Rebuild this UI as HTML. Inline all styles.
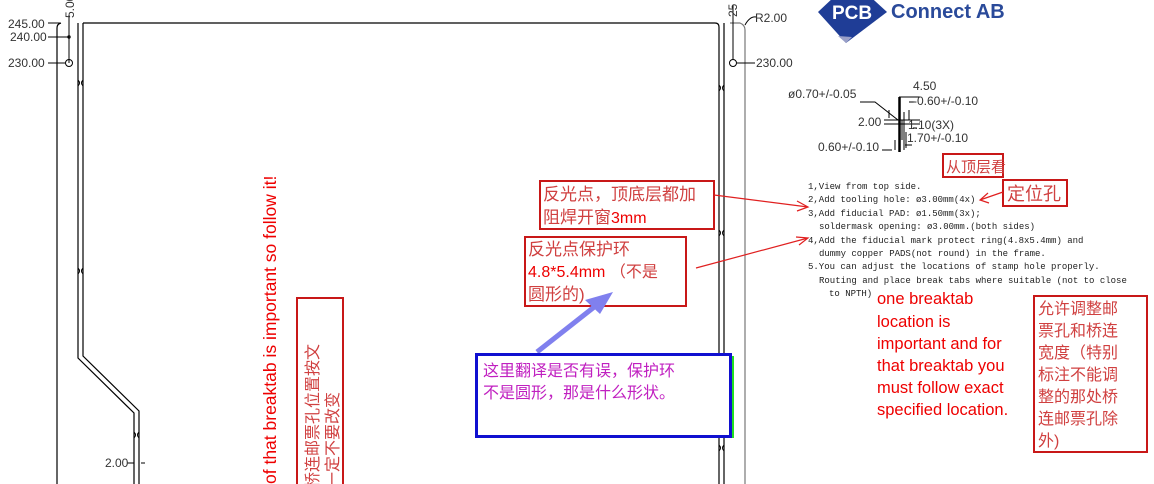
<!DOCTYPE html>
<html><head><meta charset="utf-8"><style>
html,body{margin:0;padding:0;background:#fff;}
svg{display:block;}
.d{font-family:"Liberation Sans",sans-serif;font-size:12px;fill:#333;}
.n{font-family:"Liberation Mono","Noto Sans CJK SC",monospace;font-size:9px;fill:#222;}
.cj{font-family:"Liberation Sans","Noto Sans CJK SC",sans-serif;}
</style></head><body>
<svg width="1154" height="484" viewBox="0 0 1154 484" xmlns="http://www.w3.org/2000/svg">
<g fill="none" stroke="#000" stroke-width="1.2">
<path d="M57 484 V28 Q57 24 61 23"/>
<path d="M78 23 V358 L134 413 V484"/>
<path d="M83 23 V356 L139 411 V484"/>
<path d="M83 23 H715 Q719 23 719 27 V484"/>
<path d="M724 23 V484"/>
<path d="M730 23 H740 Q745 25 745 30 V484" stroke="#777"/>
</g>
<g stroke="#000" stroke-width="1" fill="none">
<path d="M78 80 q3 3 0 6 M83 80 q-3 3 0 6"/>
<path d="M78 268 q3 3 0 6 M83 268 q-3 3 0 6"/>
<path d="M134 432 q3 3 0 6 M139 432 q-3 3 0 6"/>
<path d="M719 85 q3 3 0 6 M724 85 q-3 3 0 6"/>
<path d="M719 230 q3 3 0 6 M724 230 q-3 3 0 6"/>
<path d="M719 445 q3 3 0 6 M724 445 q-3 3 0 6"/>
</g>
<g stroke="#000" stroke-width="1" fill="none">
<path d="M48 23 H60"/><path d="M48 37 H69"/><path d="M48 63 H65"/>
<path d="M69 15 V63"/><circle cx="69" cy="63" r="3.5"/><circle cx="69" cy="37" r="1.2"/>
<path d="M127 463 H134 M141 463 H145"/>
<path d="M733 5 V60"/><circle cx="733" cy="63" r="3.5"/><path d="M737 63 H755"/>
<path d="M745 25 Q750 16 756 17"/>
</g>
<text class="d" x="8" y="28">245.00</text>
<text class="d" x="10" y="41">240.00</text>
<text class="d" x="8" y="67">230.00</text>
<text class="d" transform="translate(74,18) rotate(-90)">5.00</text>
<text class="d" x="105" y="467">2.00</text>
<text class="d" transform="translate(737,17) rotate(-90)">25</text>
<text class="d" x="755" y="22">R2.00</text>
<text class="d" x="756" y="67">230.00</text>
<polygon points="852,-20 887,12 846,43 818,12" fill="#1f3d96"/>
<polygon points="838,36 846,43 852,37" fill="#9aa0c8"/>
<text x="832" y="19" font-family="Liberation Sans,sans-serif" font-weight="bold" font-size="19" fill="#fff">PCB</text>
<text x="891" y="18" font-family="Liberation Sans,sans-serif" font-weight="bold" font-size="20" fill="#2a4a9a">Connect AB</text>
<g stroke="#000" stroke-width="1" fill="none">
<path d="M899 97 H920 M860 102 H875 L898 120"/>
<path d="M889 110 V118 M909 110 V120 M884 120 H920 M884 124 H920"/>
<path d="M899 97 V152 M900 97 V152" stroke-width="1.5"/>
<path d="M904 112 V150 M902 120 V140 M906 132 V148 M895 140 V150 M882 150 H892"/>
<path d="M909 102 H915 M913 128 H917 M905 145 H912"/>
</g>
<text class="d" x="913" y="90">4.50</text>
<text class="d" x="788" y="98">ø0.70+/-0.05</text>
<text class="d" x="913" y="105">-0.60+/-0.10</text>
<text class="d" x="858" y="126">2.00</text>
<text class="d" x="908" y="129">1.10(3X)</text>
<text class="d" x="907" y="142">1.70+/-0.10</text>
<text class="d" x="818" y="151">0.60+/-0.10</text>
<text class="n" x="808" y="189">1,View from top side.</text>
<text class="n" x="808" y="202">2,Add tooling hole:  ø3.00mm(4x)</text>
<text class="n" x="808" y="216">3,Add fiducial PAD:  ø1.50mm(3x);</text>
<text class="n" x="819" y="229">soldermask opening: ø3.00mm.(both sides)</text>
<text class="n" x="808" y="243">4,Add the fiducial mark protect ring(4.8x5.4mm) and</text>
<text class="n" x="819" y="256">dummy copper PADS(not round) in the frame.</text>
<text class="n" x="808" y="269">5.You can adjust the locations of stamp hole properly.</text>
<text class="n" x="819" y="283">Routing and place break tabs where suitable (not to close</text>
<text class="n" x="829" y="296">to NPTH)</text>
<g fill="none" stroke="#c81818" stroke-width="2">
<rect x="943" y="154" width="60" height="23"/>
<rect x="1003" y="180" width="64" height="26"/>
<rect x="540" y="181" width="174" height="48"/>
<rect x="525" y="237" width="161" height="69"/>
<rect x="1034" y="296" width="113" height="156"/>
<rect x="297" y="298" width="46" height="190"/>
</g>
<g stroke="#e02020" stroke-width="1.2" fill="none">
<path d="M1003 192 L980 200 M988 193 L980 200 L989 203"/>
<path d="M714 195 L808 207 M797 201 L808 207 L797 211"/>
<path d="M696 268 L808 238 M796 237 L808 238 L799 245"/>
</g>
<g class="cj" fill="#d04040">
<text x="946" y="172" font-size="15">从顶层看</text>
<text x="1007" y="200" font-size="18">定位孔</text>
<text x="543" y="200" font-size="17">反光点，顶底层都加</text>
<text x="543" y="223" font-size="17">阻焊开窗<tspan fill="#e00" font-size="16">3mm</tspan></text>
<text x="528" y="255" font-size="17">反光点保护环</text>
<text x="528" y="277" font-size="16"><tspan fill="#e00">4.8*5.4mm</tspan> （不是</text>
<text x="528" y="300" font-size="17">圆形的)</text>
<g font-size="16">
<text x="1038" y="314">允许调整邮</text>
<text x="1038" y="336">票孔和桥连</text>
<text x="1038" y="358">宽度（特别</text>
<text x="1038" y="380">标注不能调</text>
<text x="1038" y="402">整的那处桥</text>
<text x="1038" y="424">连邮票孔除</text>
<text x="1038" y="446">外)</text>
</g>
<text transform="translate(318,488) rotate(-90)" font-size="16">桥连邮票孔位置按文</text>
<text transform="translate(338,488) rotate(-90)" font-size="16">一定不要改变</text>
</g>
<g font-family="Liberation Sans,sans-serif" font-size="16.5" fill="#e00">
<text x="877" y="304">one breaktab</text>
<text x="877" y="327">location is</text>
<text x="877" y="349">important and for</text>
<text x="877" y="371">that breaktab you</text>
<text x="877" y="393">must follow exact</text>
<text x="877" y="415">specified location.</text>
<text transform="translate(276,484) rotate(-90)" font-size="17.5">of that breaktab is important so follow it!</text>
</g>
<line x1="537" y1="352" x2="598" y2="304" stroke="#8080ee" stroke-width="5"/>
<polygon points="613,292 585,300 600,314" fill="#8080ee"/>
<rect x="731" y="356" width="3" height="82" fill="#20e020"/>
<rect x="476.5" y="354.5" width="254" height="82" fill="#fff" stroke="#1010d0" stroke-width="3"/>
<g class="cj" fill="#c020c0" font-size="16">
<text x="483" y="376">这里翻译是否有误，保护环</text>
<text x="483" y="398">不是圆形，那是什么形状。</text>
</g>
</svg>
</body></html>
